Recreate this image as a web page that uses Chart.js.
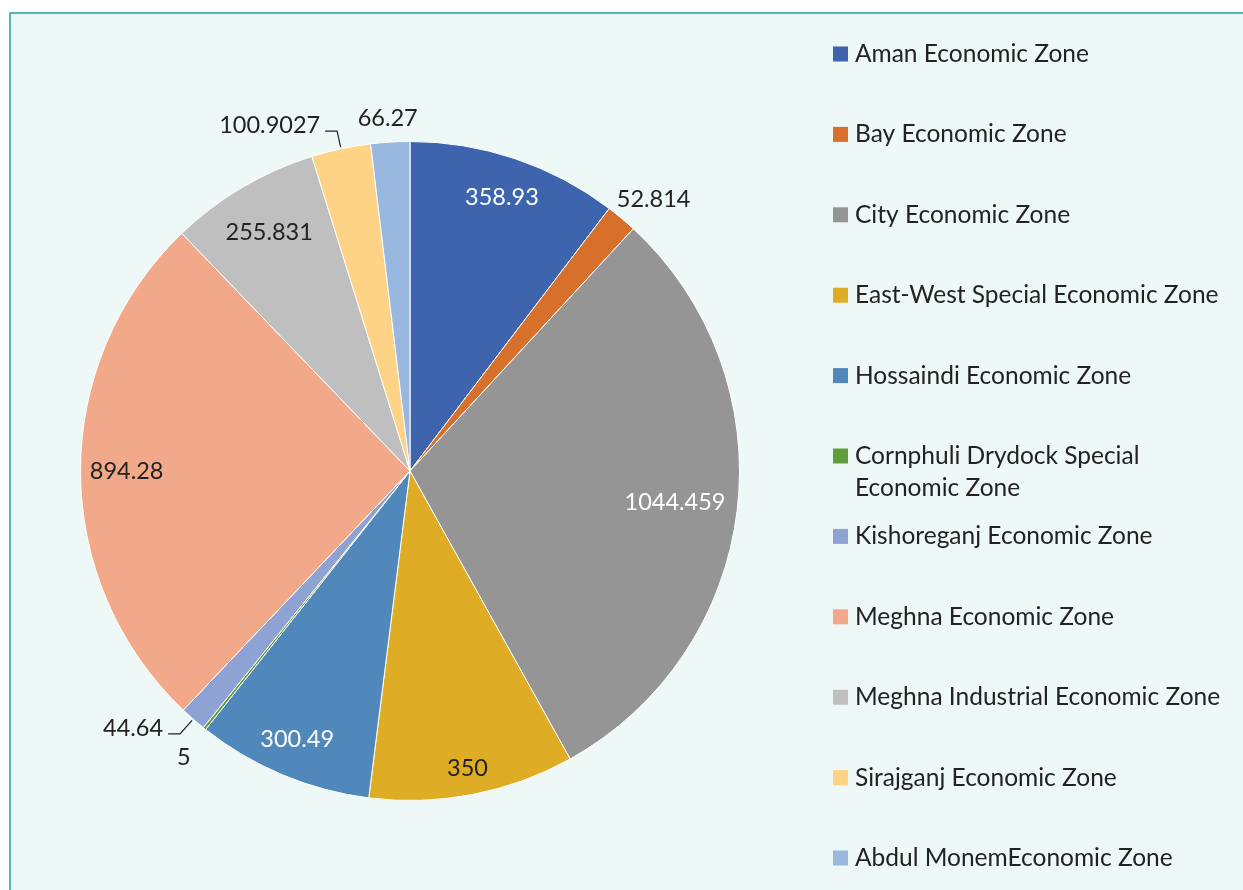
<!DOCTYPE html>
<html>
<head>
<meta charset="utf-8">
<script src="https://cdn.jsdelivr.net/npm/chart.js@4/dist/chart.umd.min.js"></script>
<style>
  html, body { margin: 0; padding: 0; background: #fff; overflow: hidden; }
  #wrap { position: relative; width: 1243px; height: 890px; }
  #frame {
    position: absolute; left: 9px; top: 12px; width: 1300px; height: 950px;
    border: 2px solid #55bbb0; background: #eef8f6;
  }
  #pie { position: absolute; left: 0; top: 0; }
</style>
</head>
<body>
<div id="wrap">
  <div id="frame"></div>
  <canvas id="pie" width="1243" height="890"></canvas>
</div>
<script>
(function() {
  "use strict";

  const zones = [
    'Aman Economic Zone',
    'Bay Economic Zone',
    'City Economic Zone',
    'East-West Special Economic Zone',
    'Hossaindi Economic Zone',
    'Cornphuli Drydock Special Economic Zone',
    'Kishoreganj Economic Zone',
    'Meghna Economic Zone',
    'Meghna Industrial Economic Zone',
    'Sirajganj Economic Zone',
    'Abdul MonemEconomic Zone'
  ];
  const amounts = [358.93, 52.814, 1044.459, 350, 300.49, 5, 44.64, 894.28, 255.831, 100.9027, 66.27];
  const colors = [
    '#3f64ae', '#d6702a', '#959595', '#dfac26', '#5088bc', '#5e9e3a',
    '#8fa2d4', '#f2a98a', '#bfbfbf', '#ffd385', '#99b8e0'
  ];

  // how each value label sits on its slice
  const labelStyle = [
    { mode: 'in', r: 0.875, color: '#ffffff' },
    { mode: 'out', r: 1.04 },
    { mode: 'in', r: 0.81, color: '#ffffff' },
    { mode: 'in', r: 0.92 },
    { mode: 'in', r: 0.885, color: '#ffffff' },
    { mode: 'out', r: 1.08 },
    { mode: 'leader', r: 1.06 },
    { mode: 'in', r: 0.86 },
    { mode: 'in', r: 0.84 },
    { mode: 'leader', r: 1.055 },
    { mode: 'out', r: 1.04 }
  ];

  const textDark = '#222222';
  const labelFont = '23.5px Lato';
  const legendFont = '24.5px Lato';

  const pieLabels = {
    id: 'pieLabels',
    afterDatasetsDraw(chart) {
      const ctx = chart.ctx;
      const meta = chart.getDatasetMeta(0);
      const ds = chart.data.datasets[0];
      ctx.save();
      ctx.font = labelFont;
      ctx.textBaseline = 'middle';
      meta.data.forEach(function(arc, i) {
        const p = arc.getProps(['x', 'y', 'startAngle', 'endAngle', 'outerRadius'], true);
        const mid = (p.startAngle + p.endAngle) / 2;
        const cos = Math.cos(mid), sin = Math.sin(mid);
        const st = labelStyle[i];
        const text = String(ds.data[i]);
        const w = ctx.measureText(text).width;
        const h = 22;
        ctx.fillStyle = st.color || textDark;

        if (st.mode === 'in') {
          ctx.textAlign = 'center';
          ctx.fillText(text, p.x + cos * p.outerRadius * st.r, p.y + sin * p.outerRadius * st.r);
        } else if (st.mode === 'out') {
          const ax = p.x + cos * p.outerRadius * st.r;
          const ay = p.y + sin * p.outerRadius * st.r;
          ctx.textAlign = 'center';
          ctx.fillText(text, ax + cos * w / 2, ay + sin * h / 2);
        } else {
          // leader line: edge -> elbow -> short horizontal, text at its end
          const sx = p.x + cos * p.outerRadius * 1.005;
          const sy = p.y + sin * p.outerRadius * 1.005;
          const ex = p.x + cos * p.outerRadius * st.r;
          const ey = p.y + sin * p.outerRadius * st.r;
          const dir = cos < 0 ? -1 : 1;
          const hx = ex + dir * 12;
          ctx.strokeStyle = textDark;
          ctx.lineWidth = 1.2;
          ctx.beginPath();
          ctx.moveTo(sx, sy);
          ctx.lineTo(ex, ey);
          ctx.lineTo(hx, ey);
          ctx.stroke();
          ctx.textAlign = dir < 0 ? 'right' : 'left';
          ctx.fillText(text, hx + dir * 5, ey - 6);
        }
      });
      ctx.restore();
    }
  };

  function wrapText(ctx, text, maxWidth) {
    const words = text.split(' ');
    const lines = [];
    let line = '';
    words.forEach(function(word) {
      const test = line ? line + ' ' + word : word;
      if (line && ctx.measureText(test).width > maxWidth) {
        lines.push(line);
        line = word;
      } else {
        line = test;
      }
    });
    lines.push(line);
    return lines;
  }

  const sideLegend = {
    id: 'sideLegend',
    afterDraw(chart) {
      const ctx = chart.ctx;
      const ds = chart.data.datasets[0];
      const names = chart.data.labels;
      const top = 54;
      const pitch = 80.4;
      const boxX = 833, boxSize = 15, textX = 855;
      ctx.save();
      ctx.font = legendFont;
      ctx.textBaseline = 'middle';
      ctx.textAlign = 'left';
      names.forEach(function(name, i) {
        const y = top + i * pitch;
        ctx.fillStyle = ds.backgroundColor[i];
        ctx.fillRect(boxX, y - boxSize / 2, boxSize, boxSize);
        ctx.fillStyle = textDark;
        wrapText(ctx, name, 378).forEach(function(line, j) {
          ctx.fillText(line, textX, y + j * 32);
        });
      });
      ctx.restore();
    }
  };

  Chart.defaults.font.family = 'Lato';

  new Chart(document.getElementById('pie'), {
    type: 'pie',
    data: {
      labels: zones,
      datasets: [{
        data: amounts,
        backgroundColor: colors,
        borderColor: '#ffffff',
        borderWidth: 1
      }]
    },
    options: {
      responsive: false,
      animation: false,
      layout: {
        padding: { left: 80, top: 141, right: 503, bottom: 89 }
      },
      plugins: {
        legend: { display: false },
        tooltip: { enabled: false }
      }
    },
    plugins: [pieLabels, sideLegend]
  });
})();
</script>
</body>
</html>
